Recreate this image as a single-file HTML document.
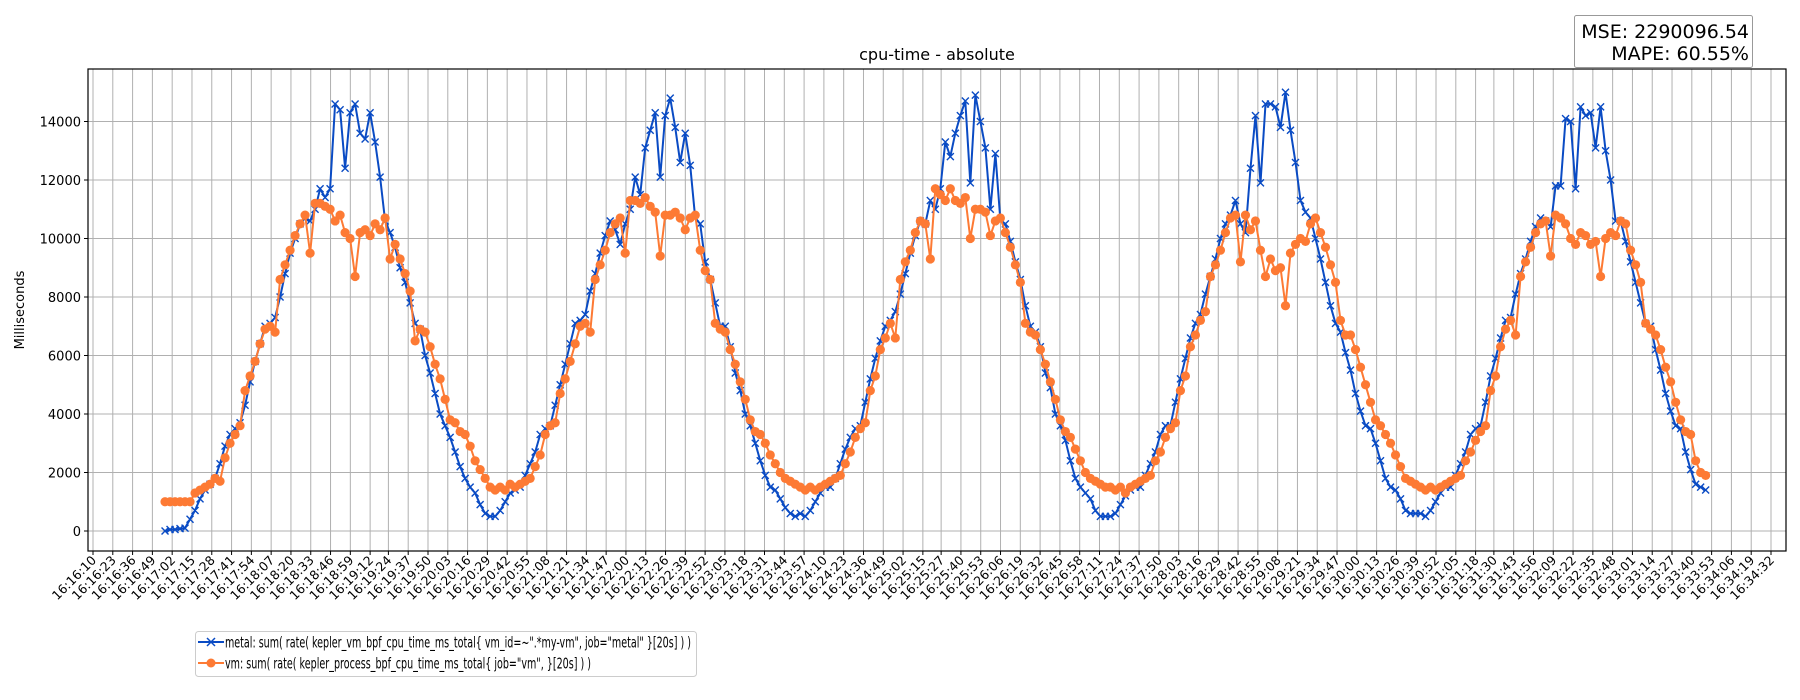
<!DOCTYPE html>
<html><head><meta charset="utf-8"><style>
html,body{margin:0;padding:0;background:#fff;}
svg{display:block;font-family:"DejaVu Sans","Liberation Sans",sans-serif;}
</style></head><body>
<svg id="chart" width="1800" height="700" viewBox="0 0 1800 700" xmlns="http://www.w3.org/2000/svg">
<rect x="0" y="0" width="1800" height="700" fill="#fff"/>
<g id="grid"></g>
<g id="series"></g>
<rect x="88" y="69" width="1698" height="482" fill="none" stroke="#000" stroke-width="1.2"/>
<g id="axes"></g>
<text x="937" y="60" font-size="16" text-anchor="middle">cpu-time - absolute</text>
<text x="0" y="0" font-size="13" text-anchor="middle" transform="translate(24,310) rotate(-90)">Milliseconds</text>
<g>
<rect x="1574.5" y="15.5" width="178" height="52" fill="#fff" stroke="#999" stroke-width="1" rx="2"/>
<text x="1749" y="38" font-size="19" text-anchor="end">MSE: 2290096.54</text>
<text x="1749" y="60" font-size="19" text-anchor="end">MAPE: 60.55%</text>
</g>
<g>
<rect x="195.5" y="631.5" width="501" height="45" fill="#fff" stroke="#ccc" stroke-width="1" rx="3"/>
<g>
<line x1="198" y1="642" x2="224" y2="642" stroke="#0a4bc4" stroke-width="2"/>
<path d="M207 638 L215 646 M207 646 L215 638" stroke="#0a4bc4" stroke-width="1.5"/>
<text x="225" y="647.5" font-size="15.5" textLength="466" lengthAdjust="spacingAndGlyphs">metal: sum( rate( kepler_vm_bpf_cpu_time_ms_total{ vm_id=~".*my-vm", job="metal" }[20s] ) )</text>
</g>
<g>
<line x1="198" y1="663" x2="224" y2="663" stroke="#fd7a34" stroke-width="2"/>
<circle cx="211" cy="663" r="4.5" fill="#fd7a34"/>
<text x="225" y="668.5" font-size="15.5" textLength="366" lengthAdjust="spacingAndGlyphs">vm: sum( rate( kepler_process_bpf_cpu_time_ms_total{ job="vm", }[20s] ) )</text>
</g>
</g>
</svg>
<script>
// ---- data ----
const yTicks = [0,2000,4000,6000,8000,10000,12000,14000];
const tickCount = 86;               // number of x tick labels
const startClock = "16:16:10";
const firstSampleOffset = 47.3;     // seconds after startClock
const sampleInterval = 3.285;       // seconds between samples
const metalValues = [
0,50,50,80,100,
400,700,1100,1400,1600,1800,2300,2900,3300,3500,3700,4300,5100,5800,6400,7000,7100,7300,8000,8800,9500,10000,10500,10700,10600,11000,11700,11400,11700,14600,14400,12400,14300,14600,13600,13400,14300,13300,12100,10600,10200,9700,9000,8500,7800,7100,6900,6000,5400,4700,4000,3600,3200,2700,2200,1800,1500,1300,900,600,
500,500,700,1000,1300,1400,1500,1900,2300,2700,3300,3500,3600,4300,5000,5700,6400,7100,7200,7400,8200,8800,9500,10100,10600,10300,9800,10500,11000,12100,11500,13100,13700,14300,12100,14200,14800,13800,12600,13600,12500,10700,10500,9200,8600,7800,7000,7000,6300,5400,4800,4000,3600,3000,2400,1900,1500,1400,1100,800,600,500,
600,500,700,1000,1300,1500,1500,1800,2300,2800,3200,3500,3600,4400,5200,5900,6500,7000,7200,7500,8100,8800,9500,10100,10600,10500,11300,11000,11700,13300,12800,13600,14200,14700,11900,14900,14000,13100,11000,12900,10600,10500,9900,9200,8600,7700,7000,6800,6300,5400,4900,4000,3600,3100,2400,1800,1500,1300,1100,700,500,500,
500,600,900,1200,1400,1500,1500,1900,2300,2700,3300,3600,3600,4400,5200,5900,6600,7100,7400,8100,8700,9300,10000,10500,10800,11300,10500,10200,12400,14200,11900,14600,14600,14500,13800,15000,13700,12600,11300,10900,10700,10000,9300,8500,7700,7100,6800,6100,5500,4700,4100,3600,3500,3000,2400,1800,1500,1400,1100,700,600,600,
600,500,700,1000,1300,1500,1500,1900,2300,2700,3300,3500,3600,4400,5300,5900,6600,7200,7300,8100,8800,9300,9900,10400,10700,10600,10400,11800,11800,14100,14000,11700,14500,14200,14300,13100,14500,13000,12000,10600,10600,9900,9200,8500,7800,7100,7000,6200,5500,4700,4100,3600,3500,2700,2100,1600,1500,1400
];
const vmValues = [
1000,1000,1000,1000,1000,1000,
1300,1400,1500,1600,1800,1700,2500,3000,3300,3600,4800,5300,5800,6400,6900,7000,6800,8600,9100,9600,10100,10500,10800,9500,11200,11200,11100,11000,10600,10800,10200,10000,8700,10200,10300,10100,10500,10300,10700,9300,9800,9300,8800,8200,6500,6900,6800,6300,5700,5200,4500,3800,3700,3400,3300,2900,2400,2100,1800,
1500,1400,1500,1400,1600,1500,1600,1700,1800,2200,2600,3300,3600,3700,4700,5200,5800,6400,7000,7100,6800,8600,9100,9600,10200,10500,10700,9500,11300,11300,11200,11400,11100,10900,9400,10800,10800,10900,10700,10300,10700,10800,9600,8900,8600,7100,6900,6800,6200,5700,5100,4500,3800,3400,3300,3000,2600,2300,2000,1800,1700,1600,
1500,1400,1500,1400,1500,1600,1700,1800,1900,2300,2700,3200,3500,3700,4800,5300,6200,6600,7100,6600,8600,9200,9600,10200,10600,10500,9300,11700,11500,11300,11700,11300,11200,11400,10000,11000,11000,10900,10100,10600,10700,10200,9700,9100,8500,7100,6800,6700,6200,5700,5100,4500,3800,3400,3200,2800,2400,2000,1800,1700,1600,1500,
1500,1400,1500,1300,1500,1600,1700,1800,1900,2400,2700,3200,3500,3700,4800,5300,6300,6700,7200,7500,8700,9100,9600,10200,10700,10800,9200,10800,10300,10600,9600,8700,9300,8900,9000,7700,9500,9800,10000,9900,10500,10700,10200,9700,9100,8500,7200,6700,6700,6200,5600,5000,4400,3800,3600,3300,3000,2600,2200,1800,1700,1600,
1500,1400,1500,1400,1500,1600,1700,1800,1900,2400,2700,3100,3400,3600,4800,5300,6300,6900,7200,6700,8700,9200,9700,10200,10500,10600,9400,10800,10700,10500,10000,9800,10200,10100,9800,9900,8700,10000,10200,10100,10600,10500,9600,9100,8500,7100,6900,6700,6200,5600,5100,4400,3800,3400,3300,2400,2000,1900
];

// ---- scales ----
const plotL=88, plotR=1786, plotT=69, plotB=551;
const y0px=531, pxPerUnit=58.5/2000;
const tick0x=93, lastTickX=1771;
const totalSpan=1102; // seconds from first to last tick
function yScale(v){return y0px - v*pxPerUnit;}
function xScale(sec){return tick0x + sec*(lastTickX-tick0x)/totalSpan;}
function clockLabel(sec){
  const p=startClock.split(':').map(Number);
  let t=p[0]*3600+p[1]*60+p[2]+sec;
  const h=Math.floor(t/3600), m=Math.floor(t%3600/60), s=t%60;
  return String(h).padStart(2,'0')+':'+String(m).padStart(2,'0')+':'+String(s).padStart(2,'0');
}
const NS='http://www.w3.org/2000/svg';
function mk(tag,attrs,parent){const e=document.createElementNS(NS,tag);for(const k in attrs)e.setAttribute(k,attrs[k]);parent.appendChild(e);return e;}
const grid=document.getElementById('grid'), axes=document.getElementById('axes'), series=document.getElementById('series');

// y grid + ticks
yTicks.forEach(v=>{
  const y=yScale(v);
  const gl=mk('line',{x1:plotL,x2:plotR,y1:y,y2:y,stroke:'#b0b0b0','stroke-width':1},grid);
  
  
  mk('line',{x1:plotL-4,x2:plotL,y1:y,y2:y,stroke:'#000','stroke-width':1},axes);
  const t=mk('text',{x:plotL-7,y:y+5,'font-size':13,'text-anchor':'end'},axes);
  t.textContent=String(v);
  
  
});
// x grid + ticks
for(let k=0;k<tickCount;k++){
  const sec=Math.round(k*totalSpan/(tickCount-1));
  const x=xScale(sec);
  const gl=mk('line',{x1:x,x2:x,y1:plotT,y2:plotB,stroke:'#b0b0b0','stroke-width':1},grid);
  
  
  mk('line',{x1:x,x2:x,y1:plotB,y2:plotB+4,stroke:'#000','stroke-width':1},axes);
  const t=mk('text',{x:0,y:0,'font-size':12.5,'text-anchor':'end',transform:`translate(${x+4},${plotB+10}) rotate(-45)`},axes);
  t.textContent=clockLabel(sec);
  
  
}
function sx(i){return xScale(firstSampleOffset+i*sampleInterval);}
// metal series
const mpts=metalValues.map((v,i)=>sx(i).toFixed(1)+','+yScale(v).toFixed(1)).join(' ');
const ml=mk('polyline',{points:mpts,fill:'none',stroke:'#0a4bc4','stroke-width':2,'stroke-linejoin':'round'},series);


let d='';
metalValues.forEach((v,i)=>{const x=sx(i),y=yScale(v);d+=`M${x-3.5} ${y-3.5}L${x+3.5} ${y+3.5}M${x-3.5} ${y+3.5}L${x+3.5} ${y-3.5}`;});
const mm=mk('path',{d:d,stroke:'#0a4bc4','stroke-width':1.4,fill:'none'},series);


// vm series
const vpts=vmValues.map((v,i)=>sx(i).toFixed(1)+','+yScale(v).toFixed(1)).join(' ');
const vl=mk('polyline',{points:vpts,fill:'none',stroke:'#fd7a34','stroke-width':2,'stroke-linejoin':'round'},series);


vmValues.forEach((v,i)=>{
  const c=mk('circle',{cx:sx(i),cy:yScale(v),r:4.6,fill:'#fd7a34'},series);
  
  
});
</script>
</body></html>
